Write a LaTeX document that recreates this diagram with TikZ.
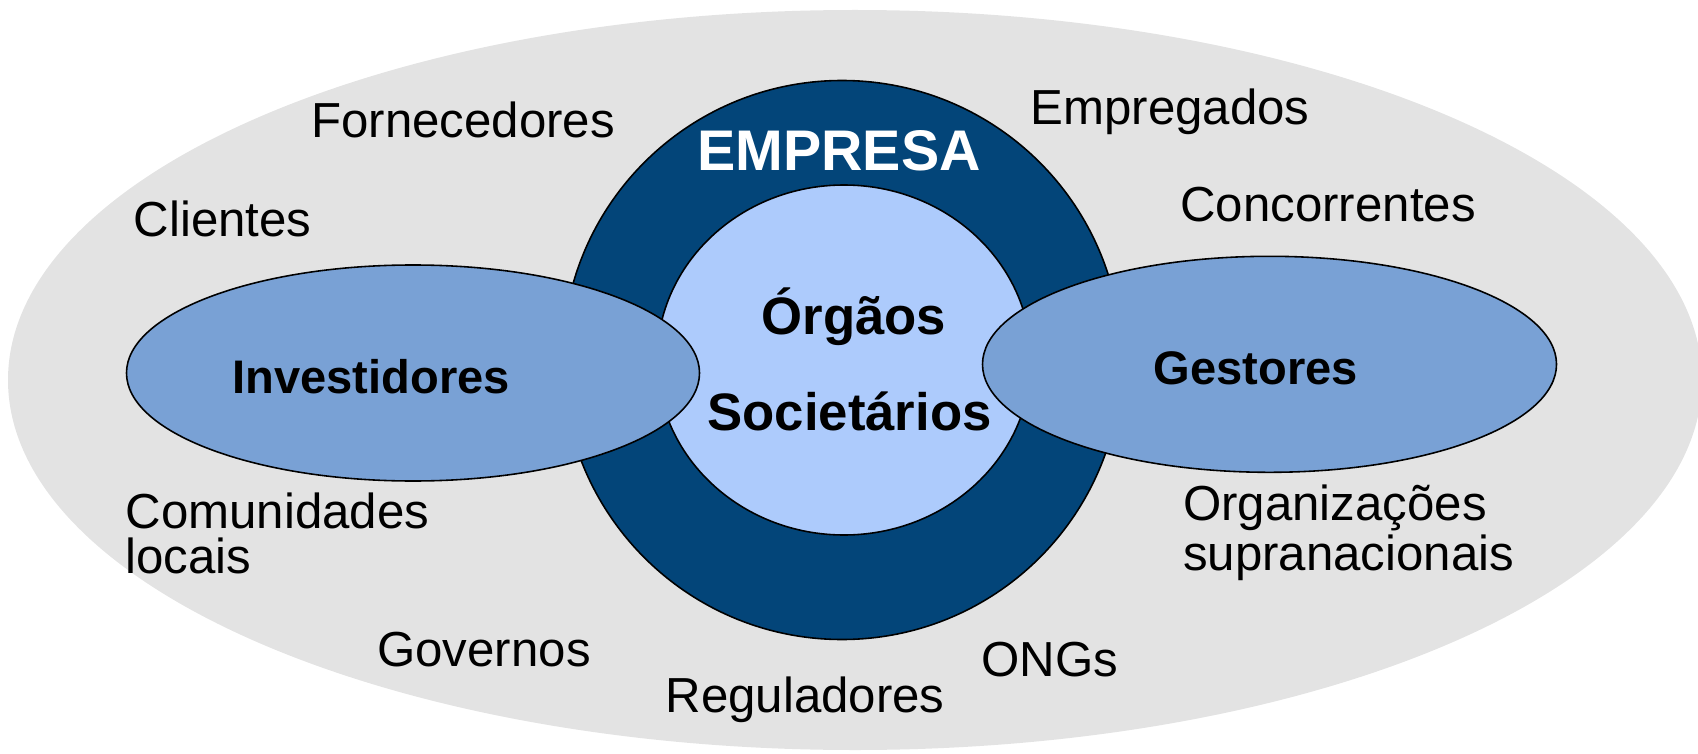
\documentclass[tikz,border=0pt]{standalone}
\usepackage{fontspec}
\setmainfont{Liberation Sans}

\definecolor{cinza}{HTML}{E3E3E3}
\definecolor{azulEscuro}{HTML}{034579}
\definecolor{azulClaro}{HTML}{ADCBFC}
\definecolor{azulMedio}{HTML}{79A1D5}

\tikzset{
  parte/.style={font=\fontsize{14}{12.6}\selectfont, inner sep=0pt},
  grupo/.style={font=\fontsize{13.4}{16}\selectfont\bfseries, inner sep=0pt},
  contorno/.style={draw=black, line width=0.45pt},
}

\begin{document}
\begin{tikzpicture}

\useasboundingbox (0, 0) rectangle (16.98, 7.53);

% Fundo (partes interessadas)
\fill[cinza] (8.55, 3.73) ellipse [x radius=8.47, y radius=3.70];

% Empresa e órgãos societários
\fill[azulEscuro, contorno] (8.42, 3.93) circle [radius=2.795];
\fill[azulClaro, contorno] (8.44, 3.93) ellipse [x radius=1.87, y radius=1.75];

% Investidores e gestores
\fill[azulMedio, contorno] (4.13, 3.80) ellipse [x radius=2.865, y radius=1.08];
\fill[azulMedio, contorno] (12.695, 3.887) ellipse [x radius=2.87, y radius=1.08];

\node[anchor=base, inner sep=0pt, white, font=\fontsize{16.3}{18}\selectfont\bfseries] (empresa) at (8.39, 5.823) {EMPRESA};
\node[anchor=base, inner sep=0pt, font=\fontsize{15}{18}\selectfont\bfseries] (orgaos) at (8.54, 4.19) {Órgãos};
\node[anchor=base, inner sep=0pt, font=\fontsize{15}{18}\selectfont\bfseries] (societarios) at (8.495, 3.23) {Societários};
\node[grupo, anchor=base] (investidores) at (3.71, 3.60) {Investidores};
\node[grupo, anchor=base] (gestores) at (12.56, 3.69) {Gestores};

% Outras partes
\node[parte, anchor=base] (fornecedores) at (4.63, 6.15) {Fornecedores};
\node[parte, anchor=base] (clientes) at (2.226, 5.163) {Clientes};
\node[parte, anchor=base] (empregados) at (11.70, 6.28) {Empregados};
\node[parte, anchor=base] (concorrentes) at (13.28, 5.313) {Concorrentes};
\node[parte, anchor=base west, align=left] (comunidades) at (1.25, 1.80) {Comunidades\\locais};
\node[parte, anchor=base west, align=left] (organizacoes) at (11.824, 1.83) {Organizações\\supranacionais};
\node[parte, anchor=base] (governos) at (4.84, 0.863) {Governos};
\node[parte, anchor=base] (reguladores) at (8.05, 0.41) {Reguladores};
\node[parte, anchor=base] (ongs) at (10.50, 0.763) {ONGs};

\end{tikzpicture}
\end{document}
